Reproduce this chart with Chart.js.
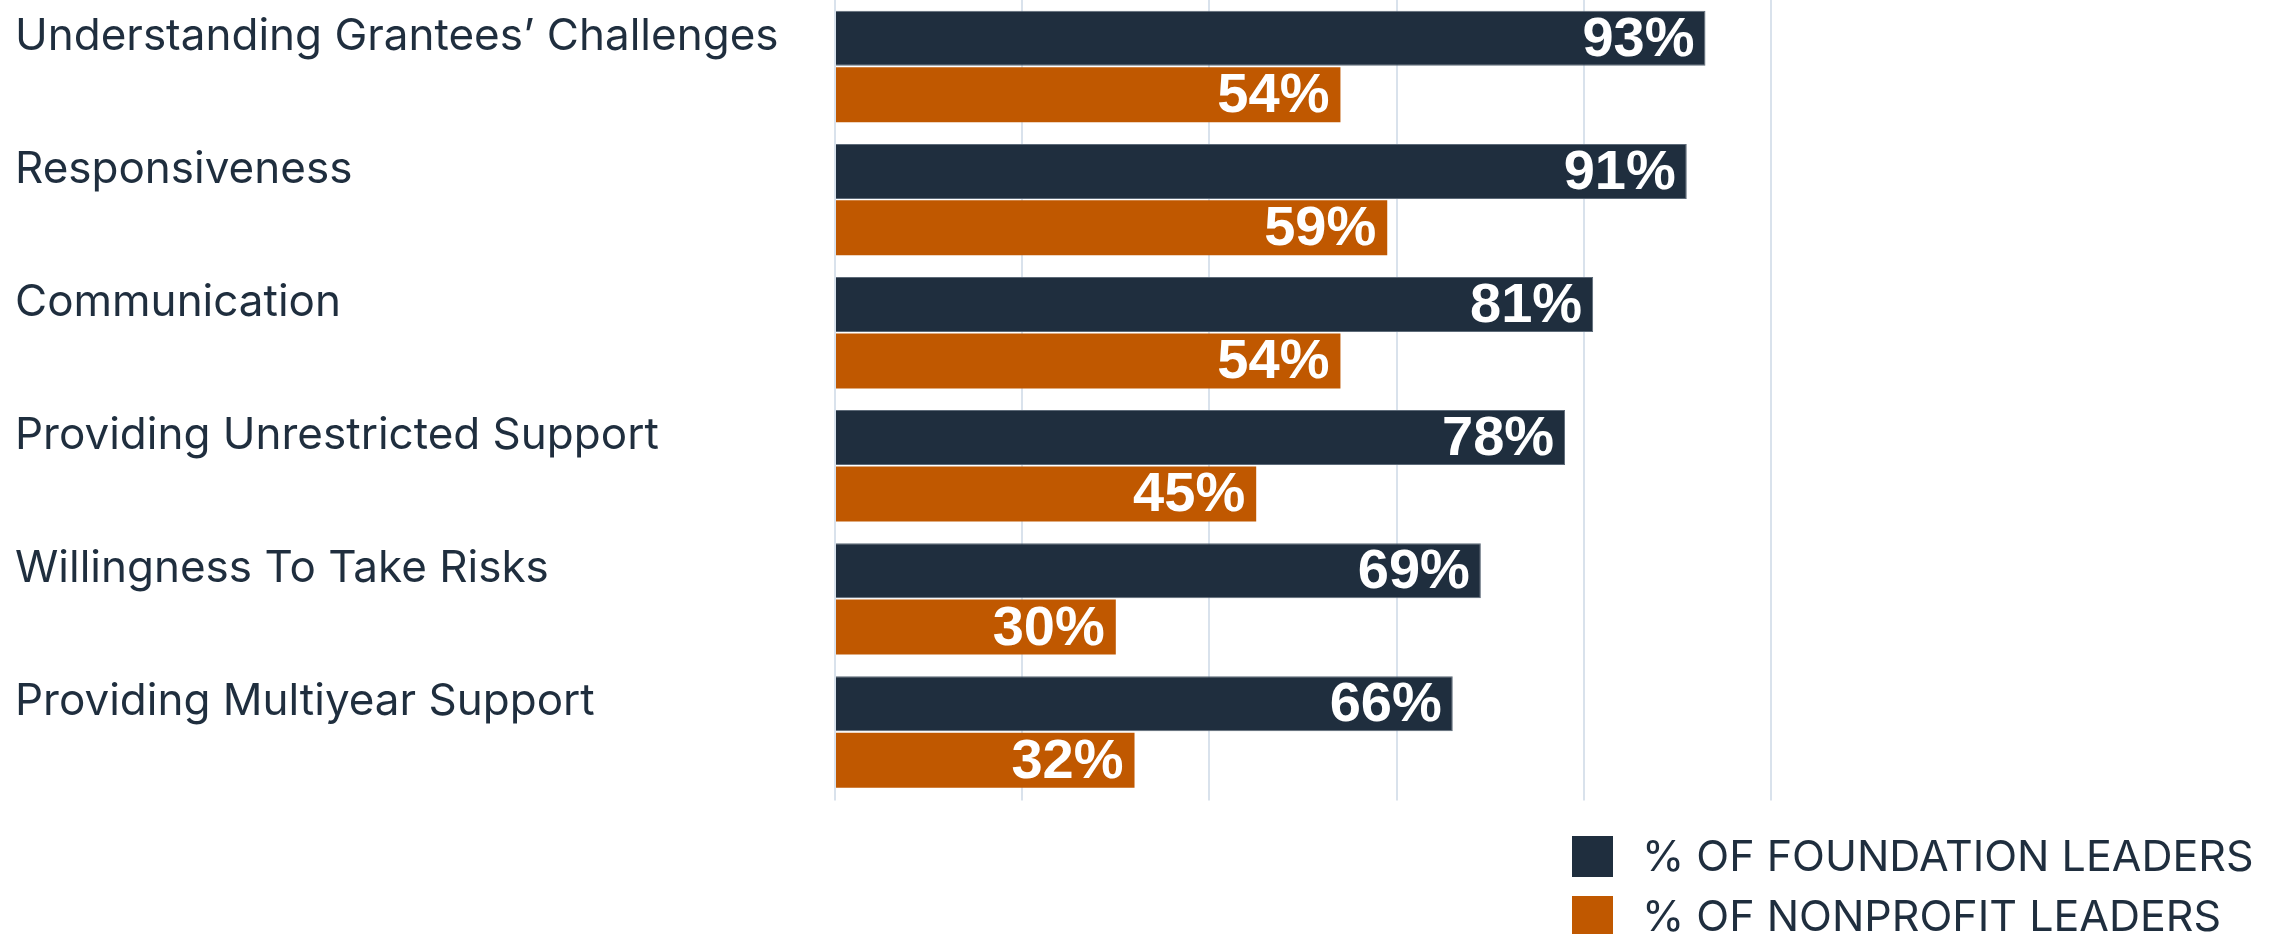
<!DOCTYPE html>
<html>
<head>
<meta charset="utf-8">
<style>
  html, body { margin: 0; padding: 0; background: #ffffff; overflow: hidden; }
  #wrap { width: 2273px; height: 934px; }
</style>
<script src="https://cdn.jsdelivr.net/npm/chart.js@4/dist/chart.umd.min.js"></script>
</head>
<body>
<div id="wrap"><canvas id="c" width="2273" height="934"></canvas></div>
<script>
const categories = [
  'Understanding Grantees\u2019 Challenges',
  'Responsiveness',
  'Communication',
  'Providing Unrestricted Support',
  'Willingness To Take Risks',
  'Providing Multiyear Support'
];
const foundationValues = [93, 91, 81, 78, 69, 66];
const nonprofitValues = [54, 59, 54, 45, 30, 32];
const seriesNames = ['% OF FOUNDATION LEADERS', '% OF NONPROFIT LEADERS'];
const seriesColors = ['#1f2e3e', '#c05800'];
const axisTicks = [0, 20, 40, 60, 80, 100];

const TEXT = '#1f2e3e';

const valueLabels = {
  id: 'valueLabels',
  afterDatasetsDraw(chart) {
    const ctx = chart.ctx;
    ctx.save();
    ctx.font = 'bold 56px "Liberation Sans", Arial, sans-serif';
    ctx.fillStyle = '#ffffff';
    ctx.textAlign = 'right';
    ctx.textBaseline = 'middle';
    chart.data.datasets.forEach((ds, di) => {
      const meta = chart.getDatasetMeta(di);
      meta.data.forEach((bar, i) => {
        ctx.fillText(ds.data[i] + '%', bar.x - 11, bar.y + 2);
      });
    });
    ctx.restore();
  }
};

const customLegend = {
  id: 'customLegend',
  afterDraw(chart) {
    const ctx = chart.ctx;
    ctx.save();
    ctx.font = '43px Inter, "Liberation Sans", sans-serif';
    ctx.textAlign = 'left';
    ctx.textBaseline = 'middle';
    chart.data.datasets.forEach((ds, i) => {
      const top = 836 + i * 60;
      ctx.fillStyle = ds.backgroundColor;
      ctx.fillRect(1572, top, 41, 41);
      ctx.fillStyle = TEXT;
      ctx.fillText(ds.label, 1642, top + 22);
    });
    ctx.restore();
  }
};

new Chart(document.getElementById('c'), {
  type: 'bar',
  data: {
    labels: categories,
    datasets: [
      {
        label: seriesNames[0],
        data: foundationValues,
        backgroundColor: seriesColors[0],
        borderColor: '#5d6a78',
        borderWidth: 1,
        barPercentage: 0.975,
        categoryPercentage: 0.848
      },
      {
        label: seriesNames[1],
        data: nonprofitValues,
        backgroundColor: seriesColors[1],
        borderWidth: 0,
        barPercentage: 0.975,
        categoryPercentage: 0.848
      }
    ]
  },
  options: {
    indexAxis: 'y',
    responsive: false,
    animation: false,
    devicePixelRatio: 1,
    layout: { padding: { left: 15, right: 502, top: -3.5, bottom: 135.5 } },
    plugins: {
      legend: { display: false },
      tooltip: { enabled: false }
    },
    scales: {
      x: {
        min: axisTicks[0],
        max: axisTicks[axisTicks.length - 1],
        afterBuildTicks: (axis) => { axis.ticks = axisTicks.map(v => ({ value: v })); },
        ticks: { display: false },
        grid: { color: '#d9e2ec', lineWidth: 2, drawTicks: true, tickLength: 2 },
        border: { display: false },
        afterFit: (axis) => { axis.height = 0; }
      },
      y: {
        grid: { display: false },
        border: { display: false },
        ticks: {
          crossAlign: 'far',
          labelOffset: -30,
          color: TEXT,
          font: { family: 'Inter, "Liberation Sans", sans-serif', size: 44 }
        },
        afterFit: (axis) => {
          axis.width = 820;
          axis.paddingTop = -3.5;
          axis.paddingBottom = 0;
        }
      }
    }
  },
  plugins: [valueLabels, customLegend]
});
</script>
</body>
</html>
